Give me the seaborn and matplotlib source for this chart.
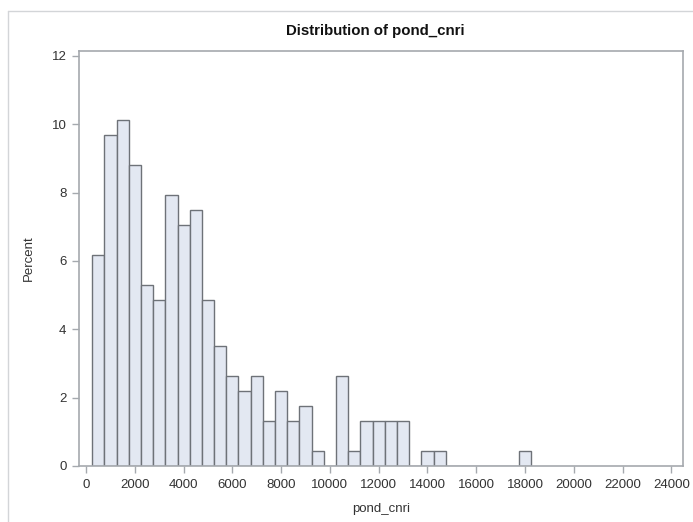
import matplotlib
matplotlib.use("Agg")
import matplotlib.pyplot as plt
import seaborn as sns
import pandas as pd
from matplotlib.lines import Line2D

# Data: bin midpoints (width 500) and percent per bin
bin_mid = [500, 1000, 1500, 2000, 2500, 3000, 3500, 4000, 4500, 5000,
           5500, 6000, 6500, 7000, 7500, 8000, 8500, 9000, 9500, 10000,
           10500, 11000, 11500, 12000, 12500, 13000, 13500, 14000, 14500,
           15000, 15500, 16000, 16500, 17000, 17500, 18000]
percent = [6.17, 9.69, 10.13, 8.81, 5.29, 4.85, 7.93, 7.05, 7.49, 4.85,
           3.52, 2.64, 2.20, 2.64, 1.32, 2.20, 1.32, 1.76, 0.44, 0.0,
           2.64, 0.44, 1.32, 1.32, 1.32, 1.32, 0.0, 0.44, 0.44,
           0.0, 0.0, 0.0, 0.0, 0.0, 0.0, 0.44]
x_ticks = list(range(0, 24001, 2000))
y_ticks = [0, 2, 4, 6, 8, 10, 12]
bin_width = 500

df = pd.DataFrame({"pond_cnri": bin_mid, "percent": percent})

sns.set_theme(style="white")
plt.rcParams['font.family'] = ['Liberation Sans', 'DejaVu Sans']

fig = plt.figure(figsize=(6.93, 5.22), dpi=100)
ax = fig.add_axes([79/693, 1 - 466/522, (683 - 79)/693, (466 - 51)/522])

sns.histplot(data=df, x="pond_cnri", weights="percent", binwidth=bin_width,
             binrange=(bin_mid[0] - bin_width/2, bin_mid[-1] + bin_width/2), ax=ax,
             color="#E3E8F2", edgecolor="#6E7278", linewidth=1.0, alpha=1.0)

ax.set_xlim(-290, 24480)
ax.set_ylim(0, 12.14)
ax.set_xticks(x_ticks)
ax.set_xticklabels([str(v) for v in x_ticks])
ax.set_yticks(y_ticks)
ax.set_yticklabels([str(v) for v in y_ticks])

spine_c = "#A5A9AE"
for s in ax.spines.values():
    s.set_visible(True)
    s.set_color(spine_c)
    s.set_linewidth(1.2)
ax.tick_params(axis='both', which='major', bottom=True, left=True,
               direction='out', length=5, width=1, color=spine_c,
               labelsize=9.5, labelcolor="#333333", pad=4)
ax.grid(False)

ax.set_xlabel("pond_cnri", fontsize=9.5, color="#333333", labelpad=9)
ax.set_ylabel("Percent", fontsize=9.5, color="#333333", labelpad=12)
fig.text((79 + 683) / 2 / 693 - 0.008, 1 - 31/522, "Distribution of pond_cnri",
         ha="center", va="center", fontsize=10.8, fontweight="bold", color="#111111")

# outer light-gray frame (top and left visible)
fig.add_artist(Line2D([8/693, 8/693], [0, 1 - 11/522], transform=fig.transFigure,
                      color="#D3D5D8", linewidth=1.0))
fig.add_artist(Line2D([8/693, 1], [1 - 11/522, 1 - 11/522], transform=fig.transFigure,
                      color="#D3D5D8", linewidth=1.0))

fig.savefig("out.png", dpi=100)
